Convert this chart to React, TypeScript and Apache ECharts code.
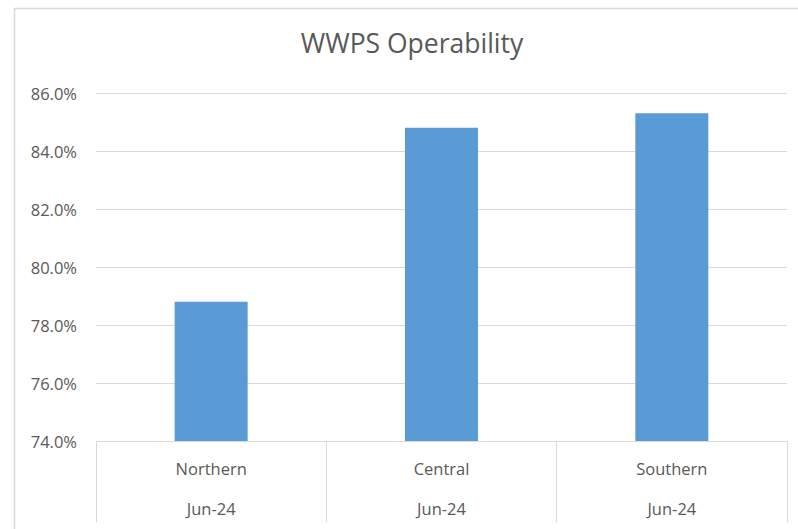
import React, { useEffect, useRef } from "react";
import * as echarts from "echarts";

const categories = ["Northern", "Central", "Southern"];
const periods = ["Jun-24", "Jun-24", "Jun-24"];
const operability = [78.8, 84.8, 85.3];
const yMin = 74;
const yMax = 86;
const yStep = 2;

const FONT = "'Open Sans', 'Noto Sans', sans-serif";
const TEXT = "#595959";
const LINE = "#d9d9d9";

export default function App() {
  const ref = useRef<HTMLDivElement>(null);
  useEffect(() => {
    document.body.style.margin = "0";
    const chart = echarts.init(ref.current!, null, { renderer: "svg" });
    chart.setOption({
      animation: false,
      backgroundColor: "#ffffff",
      title: {
        text: "WWPS Operability",
        left: 412,
        top: 29,
        textAlign: "center",
        padding: 0,
        textStyle: { fontFamily: FONT, fontSize: 26.5, fontWeight: "normal", color: TEXT },
      },
      graphic: [
        {
          type: "rect",
          shape: { x: 14.5, y: 8.5, width: 800, height: 540 },
          style: { fill: "none", stroke: LINE, lineWidth: 1.5 },
          silent: true,
          z: -10,
        },
      ],
      grid: { left: 96, right: 11, top: 93, bottom: 88 },
      xAxis: {
        type: "category",
        data: categories.map((c, i) => c + "\n" + periods[i]),
        axisLine: { show: true, lineStyle: { color: LINE, width: 1 } },
        axisTick: { show: true, length: 81, lineStyle: { color: LINE, width: 1 } },
        axisLabel: {
          fontFamily: FONT,
          fontSize: 16.5,
          color: TEXT,
          lineHeight: 40,
          margin: 7,
        },
      },
      yAxis: {
        type: "value",
        min: yMin,
        max: yMax,
        interval: yStep,
        axisLine: { show: false },
        axisTick: { show: false },
        splitLine: { lineStyle: { color: LINE, width: 1 } },
        axisLabel: {
          fontFamily: FONT,
          fontSize: 16.5,
          color: TEXT,
          margin: 19,
          formatter: (v: number) => v.toFixed(1) + "%",
        },
      },
      series: [
        {
          type: "bar",
          data: operability,
          barWidth: "31.7%",
          itemStyle: { color: "#5b9bd5" },
        },
      ],
    });
    return () => chart.dispose();
  }, []);
  return (
    <div
      ref={ref}
      style={{ position: "fixed", left: 0, top: 0, width: 798, height: 529 }}
    />
  );
}
